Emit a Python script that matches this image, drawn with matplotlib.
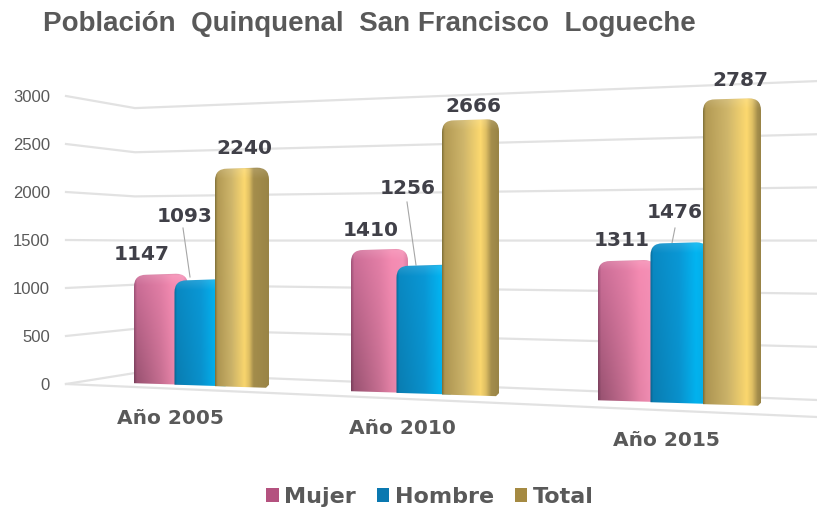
import numpy as np
import matplotlib
matplotlib.use('Agg')
import matplotlib.pyplot as plt
from matplotlib.path import Path
from matplotlib.patches import PathPatch, Patch
from matplotlib.colors import to_rgb

# data
TITLE = 'Población  Quinquenal  San Francisco  Logueche'
CATEGORIES = ['Año 2005', 'Año 2010', 'Año 2015']
SERIES = ['Mujer', 'Hombre', 'Total']
MUJER = [1147, 1410, 1311]
HOMBRE = [1093, 1256, 1476]
TOTAL = [2240, 2666, 2787]
TICKS = [0, 500, 1000, 1500, 2000, 2500, 3000]

# layout of the fake 3d view, in image pixels
GROUP_LEFT = [134, 351, 598]
GROUP_STEP = [40.5, 45.5, 52.5]
BAR_WIDTH = [54, 57, 58]
CAT_POS = [(170, 419), (402, 428), (666, 440)]
LABEL_POS = [[(142, 254), (185, 216), (244, 149)],
             [(371, 230), (408, 189), (473, 106)],
             [(622, 241), (675, 213), (740, 80)]]
LEADERS = [((183, 228), (190, 277)),
           ((407, 202), (416, 265)),
           ((675, 228), (672, 243))]

WALL_LEFT, WALL_CORNER, WALL_RIGHT = 66, 135, 817
GRID = '#e2e2e2'
TEXT = '#595959'
LABEL = '#404048'

PINK = [(0, '#a8587f'), (.05, '#d0709a'), (.5, '#e580a8'), (.72, '#f68cb3'),
        (.92, '#f590b6'), (1, '#dc7ea4')]
BLUE = [(0, '#0a6c9a'), (.05, '#0a8ac4'), (.5, '#0a98d6'), (.8, '#02b5f2'),
        (.94, '#06aee8'), (1, '#0a8cc4')]
EDGE_DARK = [.28, .1, .04]
# the lit band and the dark side of the gold bars move right with the view
GOLD_BAND = [.55, .68, .76]
GOLD_SIDE = [.72, .87, .95]


def gold_stops(g):
    band, side = GOLD_BAND[g], GOLD_SIDE[g]
    return [(0, '#86763c'), (.04, '#b39a54'), (band * .55, '#cfb66b'),
            (band, '#fdd96f'), ((band + side) / 2, '#e0c064'),
            (side, '#a58e4c'), (1, '#998446')]


def wall_y(x, v):
    '''Pixel height of value v on the back walls'''
    if x <= WALL_CORNER:
        t = (x - WALL_LEFT) / (WALL_CORNER - WALL_LEFT)
        y0 = 384 + t * (373 - 384)
        s = .096 + t * (.0883 - .096)
    else:
        t = (x - WALL_CORNER) / (WALL_RIGHT - WALL_CORNER)
        y0 = 373 + t * (400 - 373)
        s = .0883 + t * (.1063 - .0883)
    return y0 - v * s


def bar_y(x, v):
    '''Pixel height of value v in the plane of the bars'''
    base = 383 + (x - 134) * .0367
    return base - v * (.095 + (x - 134) * .0000248)


def bar_path(x0, x1, v):
    '''Outline with rounded top corners and a cut lower right corner'''
    xc = (x0 + x1) / 2
    top = bar_y(xc, v)
    bottom = bar_y(xc, 0)
    r = 12
    tl, tr = top + .5, top - .5
    bl, br = bottom - .8, bottom + .8
    verts = [(x0, bl), (x0, tl + r), (x0, tl), (x0 + r, tl), (x1 - r, tr),
             (x1, tr), (x1, tr + r), (x1, br - 3), (x1 - 3, br), (x0, bl)]
    codes = [Path.MOVETO, Path.LINETO, Path.CURVE3, Path.CURVE3, Path.LINETO,
             Path.CURVE3, Path.CURVE3, Path.LINETO, Path.LINETO, Path.CLOSEPOLY]
    return Path(verts, codes), top, bottom


def bar_image(stops, dark, height):
    '''Horizontal colour ramp with a bevel at the top, darker low on the left'''
    n_w, n_h = 60, max(int(height), 12)
    t = np.linspace(0, 1, n_w)
    pos = [s[0] for s in stops]
    rgb = np.array([to_rgb(s[1]) for s in stops])
    ramp = np.stack([np.interp(t, pos, rgb[:, i]) for i in range(3)], axis=1)
    img = np.repeat(ramp[np.newaxis, :, :], n_h, axis=0)

    down = np.linspace(0, 1, n_h)[:, np.newaxis, np.newaxis]
    left = (1 - t)[np.newaxis, :, np.newaxis]
    img = img * (1 - dark * down * left)

    px = np.arange(n_h) * height / n_h
    bevel = np.clip(1 - px / 12, 0, 1)[:, np.newaxis, np.newaxis]
    img = img + (1 - img) * bevel * .15
    rim = np.clip(1 - px / 3, 0, 1)[:, np.newaxis, np.newaxis]
    img = img * (1 - rim * .12)
    return np.clip(img, 0, 1)


def draw_grid(ax):
    for v in TICKS:
        xs = [WALL_LEFT, WALL_CORNER, WALL_RIGHT]
        ax.plot(xs, [wall_y(x, v) for x in xs], color=GRID, lw=1.6, zorder=1)
        ax.text(50, wall_y(WALL_LEFT, v) + 1, str(v), ha='right', va='center',
                color=TEXT, fontsize=12, family='Liberation Sans')
    ax.plot([WALL_LEFT, WALL_RIGHT], [384, 417], color=GRID, lw=1.6, zorder=1)


def draw_bars(ax):
    values = [MUJER, HOMBRE, TOTAL]
    for g in range(len(CATEGORIES)):
        stops = [PINK, BLUE, gold_stops(g)]
        for s in range(len(SERIES)):
            x0 = GROUP_LEFT[g] + s * GROUP_STEP[g]
            x1 = x0 + BAR_WIDTH[g]
            path, top, bottom = bar_path(x0, x1, values[s][g])
            img = bar_image(stops[s], EDGE_DARK[s], bottom - top)
            im = ax.imshow(img, extent=(x0, x1, bottom + 2, top - 2),
                           aspect='auto', interpolation='bilinear',
                           zorder=3 + s)
            im.set_clip_path(PathPatch(path, transform=ax.transData))

            lx, ly = LABEL_POS[g][s]
            ax.text(lx, ly, str(values[s][g]), ha='center', va='center',
                    color=LABEL, fontsize=14.5, fontweight='bold', zorder=8)


def main():
    fig = plt.figure(figsize=(8.17, 5.12), dpi=100)
    ax = fig.add_axes([0, 0, 1, 1])

    draw_grid(ax)
    draw_bars(ax)

    for p0, p1 in LEADERS:
        ax.plot([p0[0], p1[0]], [p0[1], p1[1]], color='#a6a6a6', lw=.8, zorder=2.5)

    for name, (x, y) in zip(CATEGORIES, CAT_POS):
        ax.text(x, y, name, ha='center', va='center', color=TEXT,
                fontsize=14.5, fontweight='bold')

    ax.text(43, 24, TITLE, ha='left', va='center', color=TEXT, fontsize=20,
            fontweight='bold', family='Liberation Sans')

    handles = [Patch(facecolor=c, edgecolor='none')
               for c in ['#b4527f', '#0a78b0', '#a58a42']]
    leg = ax.legend(handles, SERIES, ncol=3, loc='center',
                    bbox_to_anchor=(430 / 817, 1 - 497 / 512), frameon=False,
                    handlelength=.55, handleheight=.55, handletextpad=.25,
                    columnspacing=.95, prop={'weight': 'bold', 'size': 16})
    for t in leg.get_texts():
        t.set_color(TEXT)

    ax.set_xlim(0, 817)
    ax.set_ylim(512, 0)
    ax.axis('off')
    fig.savefig('out.png', dpi=100, facecolor='white')


if __name__ == '__main__':
    main()
